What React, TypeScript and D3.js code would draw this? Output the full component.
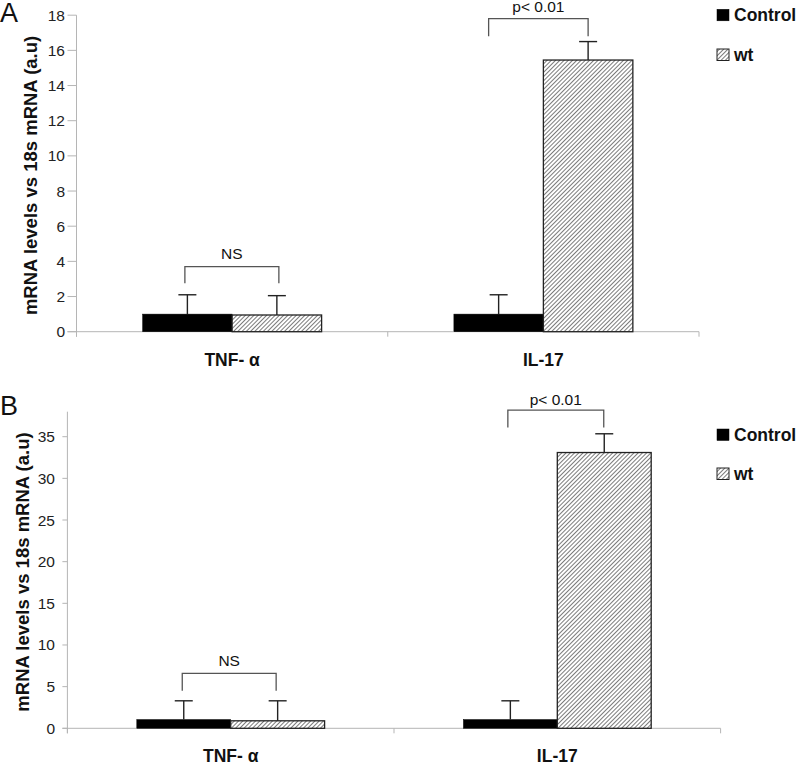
import React from "react";
import * as d3 from "d3";

const categories = ["TNF- α", "IL-17"];
const seriesNames = ["Control", "wt"];

// Panel A
const aControl = [1.0, 1.0];
const aControlErr = [1.1, 1.1];
const aWt = [0.95, 15.45];
const aWtErr = [1.1, 1.05];
const aTicks = [0, 2, 4, 6, 8, 10, 12, 14, 16, 18];
const aBracketLabels = ["NS", "p< 0.01"];
const aBracketTop = [3.7, 17.8];
const aBracketLeg = [2.75, 16.8];
const aBracketDxL = [-2.5, -10];
const aBracketDxR = [2, 0];
const aBracketLabelGap = [7.5, 7];

// Panel B
const bControl = [1.05, 1.05];
const bControlErr = [2.25, 2.25];
const bWt = [0.9, 33.1];
const bWtErr = [2.4, 2.25];
const bTicks = [0, 5, 10, 15, 20, 25, 30, 35];
const bBracketLabels = ["NS", "p< 0.01"];
const bBracketTop = [6.6, 38.2];
const bBracketLeg = [4.5, 36.1];
const bBracketDxL = [-1.5, -2.5];
const bBracketDxR = [-1.5, -0.5];
const bBracketLabelGap = [7.5, 5];

const FONT = "'Liberation Sans', Arial, Helvetica, sans-serif";

type PanelProps = {
  letter: string;
  letterY: number;
  x0: number;
  x1: number;
  yBottom: number;
  yTop: number;
  yMax: number;
  ticks: number[];
  tickLen: number;
  tickLabelX: number;
  titleX: number;
  catLabelY: number;
  control: number[];
  controlErr: number[];
  wt: number[];
  wtErr: number[];
  bracketLabels: string[];
  bracketTop: number[];
  bracketLeg: number[];
  dxL: number[];
  dxR: number[];
  labelGap: number[];
  legendY: number[];
};

function Panel(p: PanelProps) {
  const y = d3.scaleLinear().domain([0, p.yMax]).range([p.yBottom, p.yTop]);
  const x = d3.scalePoint<string>().domain(categories).range([p.x0, p.x1]).padding(0.5);
  const step = x.step();
  const groupW = step * 0.575;
  const xs = d3.scaleBand<string>().domain(seriesNames).range([-groupW / 2, groupW / 2]).padding(0);
  const bw = xs.bandwidth();
  const values = [p.control, p.wt];
  const errs = [p.controlErr, p.wtErr];
  const boundaries = [p.x0, p.x0 + step, p.x0 + 2 * step];
  const axisColor = "#b5b5b5";
  const yTitleCenter = (p.yBottom + p.yTop) / 2 + 2;

  return (
    <g>
      <text x={0} y={p.letterY} fontFamily={FONT} fontSize={27} fill="#111">
        {p.letter}
      </text>
      {/* y axis */}
      <line x1={p.x0} x2={p.x0} y1={y(p.yMax)} y2={p.yBottom + 5} stroke={axisColor} strokeWidth={1} />
      {p.ticks.map((t) => (
        <g key={t}>
          <line x1={p.x0 - p.tickLen} x2={p.x0} y1={y(t)} y2={y(t)} stroke={axisColor} strokeWidth={1} />
          <text
            x={p.tickLabelX}
            y={y(t) + 5.5}
            textAnchor="end"
            fontFamily={FONT}
            fontSize={15.5}
            fill="#222"
          >
            {t}
          </text>
        </g>
      ))}
      <text
        transform={`translate(${p.titleX},${yTitleCenter}) rotate(-90)`}
        textAnchor="middle"
        fontFamily={FONT}
        fontWeight="bold"
        fontSize={18.5}
        fill="#111"
      >
        mRNA levels vs 18s mRNA (a.u)
      </text>
      {/* x axis */}
      <line x1={p.x0 - p.tickLen} x2={p.x1} y1={p.yBottom} y2={p.yBottom} stroke={axisColor} strokeWidth={1} />
      {boundaries.map((b, i) => (
        <line key={i} x1={b} x2={b} y1={p.yBottom} y2={p.yBottom + 5} stroke={axisColor} strokeWidth={1} />
      ))}
      {categories.map((c) => (
        <text
          key={c}
          x={x(c)}
          y={p.catLabelY}
          textAnchor="middle"
          fontFamily={FONT}
          fontWeight="bold"
          fontSize={17.5}
          fill="#111"
        >
          {c}
        </text>
      ))}
      {/* bars */}
      {categories.map((c, ci) =>
        seriesNames.map((s, si) => {
          const v = values[si][ci];
          const bx = (x(c) as number) + (xs(s) as number);
          return (
            <rect
              key={c + s}
              x={bx}
              y={y(v)}
              width={bw}
              height={p.yBottom - y(v)}
              fill={si === 0 ? "#000" : "url(#hatch)"}
              stroke={si === 0 ? "#000" : "#222"}
              strokeWidth={si === 0 ? 0.5 : 1.3}
            />
          );
        })
      )}
      {/* error bars */}
      {categories.map((c, ci) =>
        seriesNames.map((s, si) => {
          const v = values[si][ci];
          const e = errs[si][ci];
          const cx = (x(c) as number) + (xs(s) as number) + bw / 2;
          return (
            <g key={"e" + c + s} stroke="#222" strokeWidth={1.4}>
              <line x1={cx} x2={cx} y1={y(v)} y2={y(v + e)} />
              <line x1={cx - 9} x2={cx + 9} y1={y(v + e)} y2={y(v + e)} />
            </g>
          );
        })
      )}
      {/* brackets */}
      {categories.map((c, ci) => {
        const lx = (x(c) as number) + (xs("Control") as number) + bw / 2 + p.dxL[ci];
        const rx = (x(c) as number) + (xs("wt") as number) + bw / 2 + p.dxR[ci];
        const ty = y(p.bracketTop[ci]);
        const ly = y(p.bracketLeg[ci]);
        return (
          <g key={"b" + c}>
            <path
              d={`M${lx},${ly}V${ty}H${rx}V${ly}`}
              fill="none"
              stroke="#555"
              strokeWidth={1.3}
            />
            <text
              x={(lx + rx) / 2}
              y={ty - p.labelGap[ci]}
              textAnchor="middle"
              fontFamily={FONT}
              fontSize={15.5}
              fill="#111"
            >
              {p.bracketLabels[ci]}
            </text>
          </g>
        );
      })}
      {/* legend */}
      {seriesNames.map((s, si) => (
        <g key={"l" + s}>
          <rect
            x={717}
            y={p.legendY[si] - 12}
            width={12}
            height={11.5}
            fill={si === 0 ? "#000" : "url(#hatch)"}
            stroke={si === 0 ? "#000" : "#222"}
            strokeWidth={si === 0 ? 0.5 : 1}
          />
          <text x={734} y={p.legendY[si]} fontFamily={FONT} fontWeight="bold" fontSize={17.5} fill="#111">
            {s}
          </text>
        </g>
      ))}
    </g>
  );
}

export default function App() {
  return (
    <svg
      width={800}
      height={765}
      style={{ position: "absolute", left: 0, top: 0, background: "#fff" }}
    >
      <defs>
        <pattern id="hatch" patternUnits="userSpaceOnUse" width={3} height={3} patternTransform="rotate(45)">
          <rect width={3} height={3} fill="#fff" />
          <line x1={0} y1={0} x2={0} y2={3} stroke="#333" strokeWidth={1.3} />
        </pattern>
      </defs>
      <rect width={800} height={765} fill="#fff" />
      <Panel
        letter="A"
        letterY={22}
        x0={76.5}
        x1={699}
        yBottom={331.7}
        yTop={15.2}
        yMax={18}
        ticks={aTicks}
        tickLen={9}
        tickLabelX={65}
        titleX={37}
        catLabelY={366}
        control={aControl}
        controlErr={aControlErr}
        wt={aWt}
        wtErr={aWtErr}
        bracketLabels={aBracketLabels}
        bracketTop={aBracketTop}
        bracketLeg={aBracketLeg}
        dxL={aBracketDxL}
        dxR={aBracketDxR}
        labelGap={aBracketLabelGap}
        legendY={[21.3, 61]}
      />
      <Panel
        letter="B"
        letterY={415}
        x0={67.4}
        x1={720.6}
        yBottom={728.3}
        yTop={411.7}
        yMax={38}
        ticks={bTicks}
        tickLen={5}
        tickLabelX={55}
        titleX={28.5}
        catLabelY={762}
        control={bControl}
        controlErr={bControlErr}
        wt={bWt}
        wtErr={bWtErr}
        bracketLabels={bBracketLabels}
        bracketTop={bBracketTop}
        bracketLeg={bBracketLeg}
        dxL={bBracketDxL}
        dxR={bBracketDxR}
        labelGap={bBracketLabelGap}
        legendY={[441, 480]}
      />
    </svg>
  );
}
